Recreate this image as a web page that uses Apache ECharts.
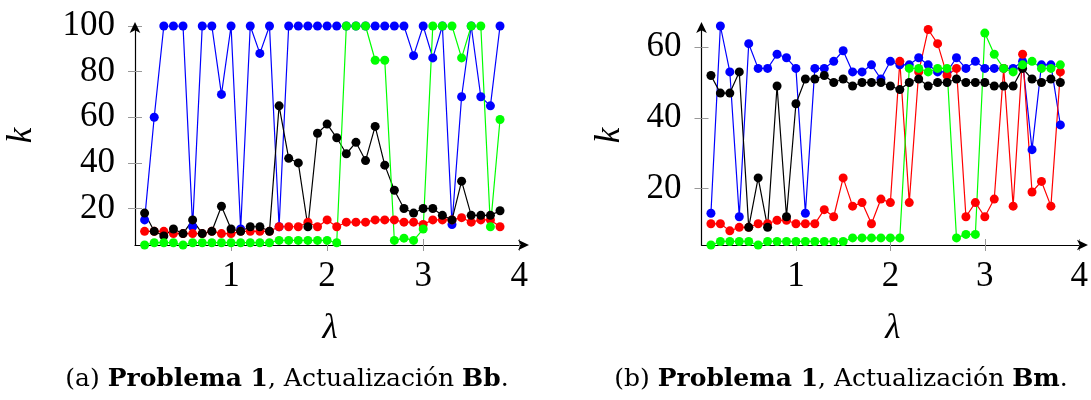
<!DOCTYPE html>
<html>
<head>
<meta charset="utf-8">
<script src="https://cdn.jsdelivr.net/npm/echarts@6/dist/echarts.min.js"></script>
<style>
  html, body { margin: 0; padding: 0; background: #fff; }
  #chart { width: 1091px; height: 400px; }
</style>
</head>
<body>
<div id="chart"></div>
<script>
// lambda values (x)
var lam = [0.1, 0.2, 0.3, 0.4, 0.5, 0.6, 0.7, 0.8, 0.9, 1.0,
           1.1, 1.2, 1.3, 1.4, 1.5, 1.6, 1.7, 1.8, 1.9, 2.0,
           2.1, 2.2, 2.3, 2.4, 2.5, 2.6, 2.7, 2.8, 2.9, 3.0,
           3.1, 3.2, 3.3, 3.4, 3.5, 3.6, 3.7, 3.8];

// (a) Actualizacion Bb
var bbBlue  = [15, 60, 100, 100, 100, 12, 100, 100, 70, 100, 11, 100, 88, 100, 12, 100, 100, 100, 100, 100,
               100, 100, 100, 100, 100, 100, 100, 100, 87, 100, 86, 100, 13, 69, 100, 69, 65, 100];
var bbRed   = [10, 10, 10, 9, 9, 9, 9, 10, 9, 9, 10, 10, 10, 10, 12, 12, 12, 14, 12, 15,
               12, 14, 14, 14, 15, 15, 15, 14, 14, 13, 15, 15, 15, 16, 14, 15, 15, 12];
var bbBlack = [18, 10, 8, 11, 9, 15, 9, 10, 21, 11, 10, 12, 12, 10, 65, 42, 40, 12, 53, 57,
               51, 44, 49, 41, 56, 39, 28, 20, 18, 20, 20, 17, 15, 32, 17, 17, 17, 19];
var bbGreen = [4, 5, 5, 5, 4, 5, 5, 5, 5, 5, 5, 5, 5, 5, 6, 6, 6, 6, 6, 6,
               5, 100, 100, 100, 85, 85, 6, 7, 6, 11, 100, 100, 100, 86, 100, 100, 12, 59];

// (b) Actualizacion Bm
var bmBlue  = [13, 66, 53, 12, 61, 54, 54, 58, 57, 54, 13, 54, 54, 56, 59, 53, 53, 55, 51, 56,
               55, 55, 57, 55, 53, 53, 57, 54, 56, 54, 54, 54, 54, 56, 31, 55, 55, 38];
var bmRed   = [10, 10, 8, 9, 9, 10, 10, 11, 11, 10, 10, 10, 14, 12, 23, 15, 16, 10, 17, 16,
               56, 16, 53, 65, 61, 52, 54, 12, 16, 12, 17, 54, 15, 58, 19, 22, 15, 53];
var bmBlack = [52, 47, 47, 53, 9, 23, 9, 49, 12, 44, 51, 51, 52, 50, 51, 49, 50, 50, 50, 49,
               48, 50, 51, 49, 50, 50, 51, 50, 50, 50, 49, 49, 49, 54, 51, 50, 51, 50];
var bmGreen = [4, 5, 5, 5, 5, 4, 5, 5, 5, 5, 5, 5, 5, 5, 5, 6, 6, 6, 6, 6,
               6, 54, 54, 53, 54, 54, 6, 7, 7, 64, 58, 54, 53, 55, 56, 54, 54, 55];

var xTicks  = [1, 2, 3, 4];
var yTicksA = [20, 40, 60, 80, 100];
var yTicksB = [20, 40, 60];

var serif = 'Liberation Serif';
var colors = ['#0000ff', '#ff0000', '#000000', '#00ff00'];

function xAxes(grid, max) {
    return [{
        type: 'value', gridIndex: grid, min: 0, max: max, position: 'bottom',
        name: 'λ', nameLocation: 'middle', nameGap: 66,
        nameTextStyle: { fontFamily: serif, fontStyle: 'italic', fontSize: 35, color: '#000' },
        axisLine: { show: true, symbol: ['none', 'arrow'], symbolSize: [8, 11], symbolOffset: [0, 4],
                    lineStyle: { color: '#000', width: 1.2 } },
        axisTick: { show: true, customValues: xTicks, length: 6, lineStyle: { color: '#999' } },
        axisLabel: { customValues: xTicks, fontFamily: serif, fontSize: 35, color: '#000', margin: 14 },
        splitLine: { show: false }
    }, {
        // second copy only for the ticks that point into the plot
        type: 'value', gridIndex: grid, min: 0, max: max, position: 'bottom',
        axisLine: { show: false },
        axisTick: { show: true, inside: true, customValues: xTicks, length: 6, lineStyle: { color: '#999' } },
        axisLabel: { show: false },
        splitLine: { show: false }
    }];
}

function yAxes(grid, max, ticks, gap) {
    return [{
        type: 'value', gridIndex: grid, min: 4, max: max, position: 'left',
        name: 'k', nameLocation: 'middle', nameGap: gap, nameRotate: 90,
        nameTextStyle: { fontFamily: serif, fontStyle: 'italic', fontSize: 35, color: '#000' },
        axisLine: { show: true, symbol: ['none', 'arrow'], symbolSize: [8, 11], symbolOffset: [0, 4],
                    lineStyle: { color: '#000', width: 1.2 } },
        axisTick: { show: true, customValues: ticks, length: 7, lineStyle: { color: '#999' } },
        axisLabel: { customValues: ticks, fontFamily: serif, fontSize: 35, color: '#000', margin: 20 },
        splitLine: { show: false }
    }, {
        type: 'value', gridIndex: grid, min: 4, max: max, position: 'left',
        axisLine: { show: false },
        axisTick: { show: true, inside: true, customValues: ticks, length: 7, lineStyle: { color: '#999' } },
        axisLabel: { show: false },
        splitLine: { show: false }
    }];
}

function makeSeries(axisX, axisY, lists) {
    return lists.map(function (vals, k) {
        return {
            type: 'line', xAxisIndex: axisX, yAxisIndex: axisY,
            symbol: 'circle', symbolSize: 9, showAllSymbol: true,
            itemStyle: { color: colors[k] },
            lineStyle: { color: colors[k], width: 1.2 },
            data: lam.map(function (x, i) { return [x, vals[i]]; })
        };
    });
}

function caption(x, tag, upd) {
    return {
        type: 'text', x: x, y: 379,
        style: {
            text: '{n|(' + tag + ') }{b|Problema 1}{n|, Actualización }{b|' + upd + '}{n|.}',
            align: 'center', verticalAlign: 'middle',
            rich: {
                n: { fontFamily: 'DejaVu Serif', fontSize: 25, fill: '#000' },
                b: { fontFamily: 'DejaVu Serif', fontSize: 25, fontWeight: 'bold', fill: '#000' }
            }
        }
    };
}

var chart = echarts.init(document.getElementById('chart'));

chart.setOption({
    backgroundColor: '#fff',
    animation: false,
    grid: [
        { left: 135, top: 26, width: 390, height: 219 },
        { left: 701.5, top: 26, width: 388, height: 219 }
    ],
    xAxis: xAxes(0, 4.06).concat(xAxes(1, 4.05)),
    yAxis: yAxes(0, 100, yTicksA, 96).concat(yAxes(1, 66, yTicksB, 74)),
    series: makeSeries(0, 0, [bbBlue, bbRed, bbBlack, bbGreen])
        .concat(makeSeries(2, 2, [bmBlue, bmRed, bmBlack, bmGreen])),
    graphic: [
        caption(287, 'a', 'Bb'),
        caption(841, 'b', 'Bm')
    ]
});
</script>
</body>
</html>
